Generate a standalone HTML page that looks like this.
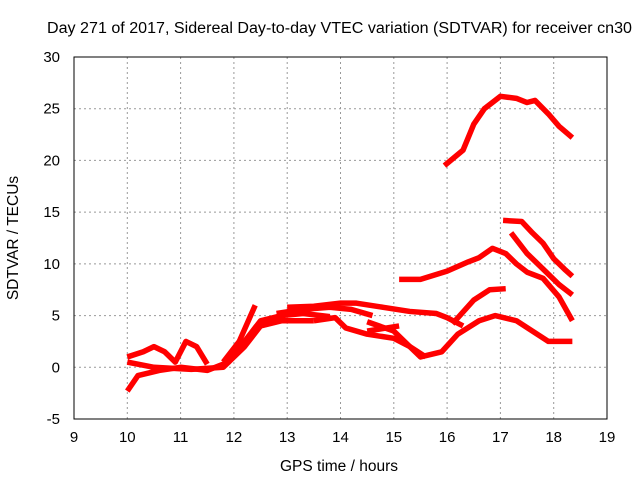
<!DOCTYPE html>
<html><head><meta charset="utf-8"><style>
body{margin:0;background:#fff}
svg{display:block;font-family:"Liberation Sans",sans-serif}
</style></head><body>
<svg id="chart" width="640" height="480">
<text x="47" y="33" font-size="15.5" textLength="585" lengthAdjust="spacingAndGlyphs">Day 271 of 2017, Sidereal Day-to-day VTEC variation (SDTVAR) for receiver cn30</text>
<text x="339" y="471" font-size="15.5" text-anchor="middle">GPS time / hours</text>
<text x="18" y="238" font-size="15.5" text-anchor="middle" transform="rotate(-90 18 238)">SDTVAR / TECUs</text>
<g id="grid"></g><g id="series"></g>
<rect x="74" y="57" width="533" height="362" fill="none" stroke="#000" stroke-width="1"/>
</svg>
<script>
const xTicks=[9,10,11,12,13,14,15,16,17,18,19];
const yTicks=[-5,0,5,10,15,20,25,30];
const s1=[[15.95,19.5],[16.3,21],[16.5,23.5],[16.7,25],[17,26.2],[17.3,26],[17.5,25.6],[17.65,25.8],[17.9,24.5],[18.1,23.3],[18.35,22.2]];
const s2=[[17.05,14.2],[17.4,14.1],[17.6,13],[17.8,12],[18,10.5],[18.2,9.5],[18.35,8.8]];
const s3=[[17.2,13],[17.5,11],[17.8,9.5],[18.1,8],[18.35,7]];
const s4=[[15.1,8.5],[15.5,8.5],[16,9.3],[16.4,10.2],[16.6,10.6],[16.85,11.5],[17.1,11],[17.3,10],[17.5,9.2],[17.8,8.6],[18.1,6.8],[18.35,4.5]];
const s5=[[16.1,4.2],[16.5,6.5],[16.8,7.5],[17.1,7.6]];
const s6=[[14.5,4.4],[15,3.5],[15.5,1],[15.9,1.5],[16.2,3.2],[16.6,4.5],[16.9,5],[17.3,4.5],[17.6,3.5],[17.9,2.5],[18.35,2.5]];
const s7=[[13,5.8],[13.5,5.9],[14,6.2],[14.3,6.2],[14.8,5.8],[15.3,5.4],[15.8,5.2],[16,4.8],[16.3,4]];
const s8=[[13.5,4.5],[13.9,4.8],[14.1,3.8],[14.5,3.2],[15,2.8],[15.3,2],[15.6,1]];
const s9=[[10,-2.3],[10.2,-0.8],[10.6,-0.3],[11,0],[11.5,-0.3],[11.9,0.5],[12.2,2.5],[12.5,4.5],[12.9,5],[13.3,5.2],[13.8,4.9]];
const s10=[[10,1],[10.3,1.5],[10.5,2],[10.7,1.5],[10.9,0.5],[11.1,2.5],[11.3,2],[11.5,0.3]];
const s11=[[10,0.5],[10.5,0],[11.2,-0.2],[11.8,0],[12.2,2],[12.5,4],[12.9,4.5],[13.5,4.5]];
const s12=[[11.8,0.5],[12.1,2.5],[12.4,6]];
const s13=[[14.5,3.5],[15.1,4]];
const s14=[[12.8,5.2],[13.3,5.6],[13.8,5.8],[14.2,5.6],[14.6,5]];
const allSeries=[s1,s2,s3,s4,s5,s6,s7,s8,s9,s10,s11,s12,s13,s14];
const X=h=>74+(h-9)*53.3, Y=v=>57+(30-v)*10.343;
const NS="http://www.w3.org/2000/svg";
const g=document.getElementById('grid'), sg=document.getElementById('series');
xTicks.forEach(t=>{
  const l=document.createElementNS(NS,'line');
  l.setAttribute('x1',X(t));l.setAttribute('x2',X(t));l.setAttribute('y1',57);l.setAttribute('y2',419);
  l.setAttribute('stroke','#999');l.setAttribute('stroke-dasharray','2,3');
  
  
  g.appendChild(l);
  const tx=document.createElementNS(NS,'text');
  tx.setAttribute('x',X(t));tx.setAttribute('y',442);tx.setAttribute('font-size','15');tx.setAttribute('text-anchor','middle');
  tx.textContent=t;
  
  
  g.appendChild(tx);
});
yTicks.forEach(t=>{
  const l=document.createElementNS(NS,'line');
  l.setAttribute('x1',74);l.setAttribute('x2',607);l.setAttribute('y1',Y(t));l.setAttribute('y2',Y(t));
  l.setAttribute('stroke','#999');l.setAttribute('stroke-dasharray','2,3');
  
  
  g.appendChild(l);
  const tx=document.createElementNS(NS,'text');
  tx.setAttribute('x',60);tx.setAttribute('y',Y(t)+5);tx.setAttribute('font-size','15');tx.setAttribute('text-anchor','end');
  tx.textContent=t;
  
  
  g.appendChild(tx);
});
allSeries.forEach(s=>{
  const p=document.createElementNS(NS,'polyline');
  p.setAttribute('points',s.map(d=>X(d[0])+','+Y(d[1])).join(' '));
  p.setAttribute('fill','none');p.setAttribute('stroke','#f00');p.setAttribute('stroke-width','5.5');
  p.setAttribute('stroke-linejoin','round');
  
  
  sg.appendChild(p);
});
</script>
</body></html>
